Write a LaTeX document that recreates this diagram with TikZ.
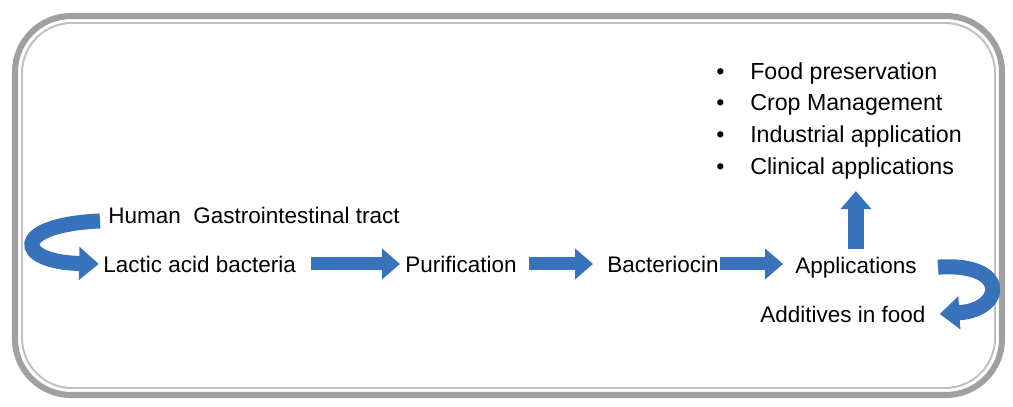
\documentclass[tikz,border=0pt]{standalone}
\usepackage{fontspec}
\setmainfont{Liberation Sans}
\usepackage{xcolor}
\usepackage{tikz}
\usetikzlibrary{arrows.meta}
\definecolor{arrowblue}{RGB}{56,114,186}
\definecolor{framegray}{RGB}{160,160,160}
\definecolor{framelight}{RGB}{192,192,192}

\begin{document}
\begin{tikzpicture}[x=0.025cm,y=-0.025cm,
  lbl/.style={inner sep=0pt,anchor=base west,font=\fontsize{16}{19}\selectfont},
  blockarrow/.style={draw=arrowblue,line width=9.2pt,-{Triangle[length=12.8pt,width=21.3pt]}},
  curvearrow/.style={draw=arrowblue,line width=10.7pt,-{Triangle[length=14pt,width=22.8pt]}}]
\useasboundingbox (0,0) rectangle (1013,407);
% frame
\draw[framegray,line width=4.3pt,rounded corners=1.4cm] (15,16) rectangle (1002,395);
\draw[framelight,line width=1.4pt,rounded corners=1.25cm] (22,23) rectangle (995,388);
% labels
\node[lbl] (hgt) at (108,223) {Human~ Gastrointestinal tract};
\node[lbl] (lab) at (103,272) {Lactic acid bacteria};
\node[lbl] (pur) at (405,272) {Purification};
\node[lbl] (bac) at (607,272) {Bacteriocin};
\node[lbl] (app) at (795,273) {Applications};
\node[lbl] (add) at (760,322) {Additives in food};
\node[lbl,anchor=north west,align=left,font=\fontsize{16.5}{22.5}\selectfont] (uses) at (716,62)
  {\makebox[0.85cm][l]{\textbullet}Food preservation\\
   \makebox[0.85cm][l]{\textbullet}Crop Management\\
   \makebox[0.85cm][l]{\textbullet}Industrial application\\
   \makebox[0.85cm][l]{\textbullet}Clinical applications};
% arrows
\draw[curvearrow] ([shift={(-8,6)}]hgt.west) .. controls (10,225) and (15,262) .. ([xshift=-3]lab.west);
\draw[blockarrow,shorten <=0.375cm,shorten >=0.125cm] (lab.east) -- (lab.east -| pur.west);
\draw[blockarrow,shorten <=0.3cm,shorten >=0.35cm] (pur.east) -- (pur.east -| bac.west);
\draw[blockarrow,shorten <=0.02cm,shorten >=0.3cm] (bac.east) -- (bac.east -| app.west);
\draw[blockarrow,line width=11.4pt,shorten <=0.18cm,shorten >=0.3cm] (app.north) -- (app.north |- uses.south);
\draw[curvearrow] ([xshift=15]app.east) .. controls (1010,262) and (1005,310) .. ([xshift=10]add.east);
\end{tikzpicture}
\end{document}
